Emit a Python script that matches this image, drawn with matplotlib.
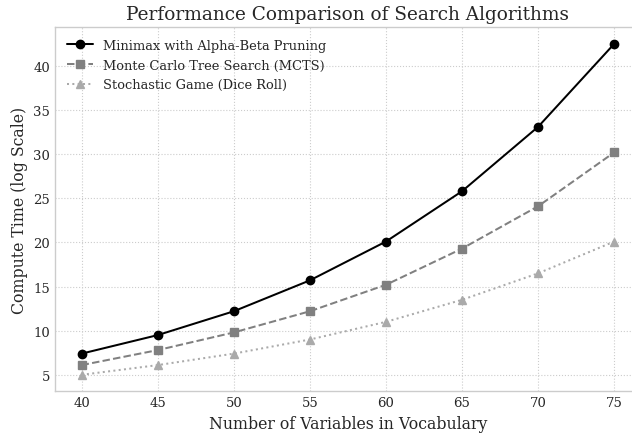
import matplotlib
matplotlib.use("Agg")
import matplotlib.pyplot as plt

variables = [40, 45, 50, 55, 60, 65, 70, 75]
minimax = [7.4, 9.5, 12.2, 15.7, 20.1, 25.8, 33.1, 42.5]
mcts = [6.1, 7.8, 9.8, 12.2, 15.2, 19.3, 24.1, 30.2]
stochastic = [5.0, 6.1, 7.4, 9.0, 11.0, 13.5, 16.5, 20.1]

plt.style.use("seaborn-v0_8-whitegrid")
plt.rcParams['font.family'] = ['DejaVu Serif']

fig, ax = plt.subplots(figsize=(6.32, 4.35), dpi=100)
ax.plot(variables, minimax, color='black', linestyle='-', marker='o', markersize=6,
        linewidth=1.45, label='Minimax with Alpha-Beta Pruning')
ax.plot(variables, mcts, color='#808080', linestyle='--', marker='s', markersize=6,
        linewidth=1.45, label='Monte Carlo Tree Search (MCTS)')
ax.plot(variables, stochastic, color='#aaaaaa', linestyle=':', marker='^', markersize=6,
        linewidth=1.45, label='Stochastic Game (Dice Roll)')

ax.set_title('Performance Comparison of Search Algorithms', fontsize=13.3)
ax.set_xlabel('Number of Variables in Vocabulary', fontsize=11.3)
ax.set_ylabel('Compute Time (log Scale)', fontsize=11.3)
ax.set_xticks(variables)
ax.set_yticks([5, 10, 15, 20, 25, 30, 35, 40])
ax.tick_params(labelsize=9.5)
ax.grid(True, linestyle=':', color='#cccccc', linewidth=0.8)
for s in ax.spines.values():
    s.set_visible(True)
    s.set_color('#cccccc')
ax.legend(loc='upper left', fontsize=9.4, frameon=False)
fig.subplots_adjust(left=0.087, right=1.014, top=0.935, bottom=0.098)
fig.savefig('out.png', dpi=100)
